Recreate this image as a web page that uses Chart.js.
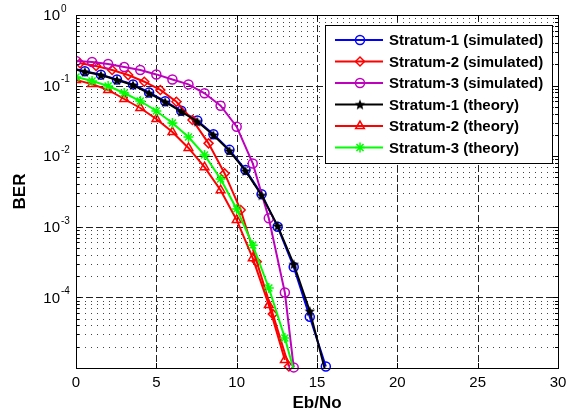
<!DOCTYPE html>
<html>
<head>
<meta charset="utf-8">
<script src="https://cdn.jsdelivr.net/npm/chart.js@4.4.0/dist/chart.umd.min.js"></script>
<style>
  html, body { margin: 0; padding: 0; background: #fff; }
  #ber { display: block; }
</style>
</head>
<body>
<canvas id="ber" width="579" height="419"></canvas>
<script>
// Eb/No values (dB) for each curve
const ebnoS1 = [-0.45, 0.55, 1.55, 2.55, 3.55, 4.55, 5.55, 6.55, 7.55, 8.55, 9.55, 10.55, 11.55, 12.55, 13.55, 14.55, 15.55];
const ebnoS2Sim = [0.25, 1.25, 2.25, 3.25, 4.25, 5.25, 6.25, 7.25, 8.25, 9.25, 10.25, 11.25, 12.25, 13.25];
const ebnoS3Sim = [0, 1, 2, 3, 4, 5, 6, 7, 8, 9, 10, 11, 12, 13, 13.55];
const ebnoS2Th = [0, 1, 2, 3, 4, 5, 6, 7, 8, 9, 10, 11, 12, 13];
const ebnoS3Th = [0, 1, 2, 3, 4, 5, 6, 7, 8, 9, 10, 11, 12, 13, 14];

// BER values
const berS1Sim = [0.18, 0.16, 0.143, 0.122, 0.104, 0.08, 0.06, 0.044, 0.032, 0.0205, 0.0123, 6.4e-3, 2.9e-3, 1.0e-3, 2.7e-4, 5.3e-5, 1.05e-5];
const berS2Sim = [0.207, 0.19, 0.166, 0.141, 0.1135, 0.0867, 0.059, 0.0326, 0.0152, 5.7e-3, 1.73e-3, 3.2e-4, 5.8e-5, 1.05e-5];
const berS3Sim = [0.223, 0.216, 0.202, 0.183, 0.166, 0.144, 0.122, 0.104, 0.0778, 0.0519, 0.0262, 7.9e-3, 1.32e-3, 1.17e-4, 1.02e-5];
const berS1Th = [0.178, 0.157, 0.141, 0.12, 0.102, 0.0778, 0.0586, 0.0427, 0.031, 0.02, 0.0119, 6.2e-3, 2.8e-3, 1.03e-3, 2.95e-4, 6.4e-5, 8.5e-6];
const berS2Th = [0.12, 0.105, 0.0867, 0.0646, 0.0482, 0.0337, 0.022, 0.0131, 7.0e-3, 3.3e-3, 1.25e-3, 3.6e-4, 7.8e-5, 1.3e-5];
const berS3Th = [0.132, 0.116, 0.0986, 0.0785, 0.0605, 0.0437, 0.0295, 0.0187, 0.0104, 4.75e-3, 1.79e-3, 5.5e-4, 1.36e-4, 2.66e-5, 4e-6];

const seriesLabels = [
    'Stratum-1 (simulated)', 'Stratum-2 (simulated)', 'Stratum-3 (simulated)',
    'Stratum-1 (theory)', 'Stratum-2 (theory)', 'Stratum-3 (theory)'
];

// axis ticks
const xTicks = [0, 5, 10, 15, 20, 25, 30];
const yTickExps = [0, -1, -2, -3, -4];

const FONT = '"Liberation Sans", Arial, Helvetica, sans-serif';

// filled pentagram marker (MATLAB 'p' look)
function makePentagram(color, size) {
    const c = document.createElement('canvas');
    c.width = size;
    c.height = size;
    const g = c.getContext('2d');
    const r = size / 2 - 0.5, ri = r * 0.45, cx = size / 2, cy = size / 2 + 0.5;
    g.beginPath();
    for (let k = 0; k < 10; k++) {
        const a = -Math.PI / 2 + k * Math.PI / 5;
        const rr = k % 2 ? ri : r;
        g.lineTo(cx + rr * Math.cos(a), cy + rr * Math.sin(a));
    }
    g.closePath();
    g.fillStyle = color;
    g.fill();
    return c;
}

function pts(xs, ys) {
    return xs.map((x, i) => ({ x: x, y: ys[i] }));
}

const clipEdge = { left: 0, top: 0, right: 0, bottom: 6 };
const clipTight = { left: 0, top: 0, right: 0, bottom: 0 };

const datasets = [
    { data: pts(ebnoS1, berS1Sim), borderColor: '#0000ff', pointStyle: 'circle', pointRadius: 4.5, clip: clipEdge },
    { data: pts(ebnoS2Sim, berS2Sim), borderColor: '#ff0000', pointStyle: 'rectRot', pointRadius: 4.5, clip: clipEdge },
    { data: pts(ebnoS3Sim, berS3Sim), borderColor: '#bf00bf', pointStyle: 'circle', pointRadius: 4.5, clip: clipEdge },
    { data: pts(ebnoS1, berS1Th), borderColor: '#000000', pointStyle: makePentagram('#000000', 12), pointRadius: 6, clip: clipTight },
    { data: pts(ebnoS2Th, berS2Th), borderColor: '#ff0000', pointStyle: 'triangle', pointRadius: 5, clip: clipEdge },
    { data: pts(ebnoS3Th, berS3Th), borderColor: '#00ff00', pointStyle: 'star', pointRadius: 5, clip: clipTight }
].map((d, i) => Object.assign({
    label: seriesLabels[i],
    borderWidth: 2,
    pointBorderWidth: 1.5,
    pointBorderColor: d.borderColor,
    pointBackgroundColor: 'rgba(0,0,0,0)',
    backgroundColor: 'rgba(0,0,0,0)',
    tension: 0,
    order: 5 - i
}, d));

const matlabAxes = {
    id: 'matlabAxes',
    beforeDraw(chart) {
        const ctx = chart.ctx;
        ctx.save();
        ctx.fillStyle = '#fff';
        ctx.fillRect(0, 0, chart.width, chart.height);
        ctx.restore();
    },
    beforeDatasetsDraw(chart) {
        const ctx = chart.ctx, a = chart.chartArea;
        const xs = chart.scales.x, ys = chart.scales.y;
        ctx.save();
        ctx.strokeStyle = '#444';
        ctx.lineWidth = 1;
        // minor dotted grid
        ctx.setLineDash([1, 5]);
        for (let e = -5; e < 0; e++) {
            for (let m = 2; m <= 9; m++) {
                const py = Math.round(ys.getPixelForValue(m * Math.pow(10, e))) + 0.5;
                if (py <= a.top || py >= a.bottom) continue;
                ctx.beginPath();
                ctx.moveTo(a.left + 3, py);
                ctx.lineTo(a.right, py);
                ctx.stroke();
            }
        }
        // major dashed grid
        ctx.setLineDash([7, 3]);
        ctx.strokeStyle = '#222';
        xTicks.slice(1, -1).forEach(v => {
            const px = Math.round(xs.getPixelForValue(v)) + 0.5;
            ctx.beginPath();
            ctx.moveTo(px, a.top);
            ctx.lineTo(px, a.bottom);
            ctx.stroke();
        });
        yTickExps.slice(1).forEach(e => {
            const py = Math.round(ys.getPixelForValue(Math.pow(10, e))) + 0.5;
            ctx.beginPath();
            ctx.moveTo(a.left, py);
            ctx.lineTo(a.right, py);
            ctx.stroke();
        });
        ctx.restore();
    },
    afterDatasetsDraw(chart) {
        const ctx = chart.ctx, a = chart.chartArea;
        const xs = chart.scales.x, ys = chart.scales.y;
        ctx.save();
        ctx.setLineDash([]);
        ctx.strokeStyle = '#000';
        ctx.lineWidth = 1;
        // box
        ctx.strokeRect(Math.round(a.left) + 0.5, Math.round(a.top) + 0.5,
            Math.round(a.right - a.left), Math.round(a.bottom - a.top));
        // inward ticks
        ctx.beginPath();
        xTicks.forEach(v => {
            const px = Math.round(xs.getPixelForValue(v)) + 0.5;
            ctx.moveTo(px, a.bottom); ctx.lineTo(px, a.bottom - 5);
            ctx.moveTo(px, a.top); ctx.lineTo(px, a.top + 5);
        });
        for (let e = -5; e <= 0; e++) {
            for (let m = 1; m <= 9; m++) {
                const v = m * Math.pow(10, e);
                if (v > 1 || v < 1e-5) continue;
                const py = Math.round(ys.getPixelForValue(v)) + 0.5;
                const len = m === 1 ? 5 : 3;
                ctx.moveTo(a.left, py); ctx.lineTo(a.left + len, py);
                ctx.moveTo(a.right, py); ctx.lineTo(a.right - len, py);
            }
        }
        ctx.stroke();

        // y tick labels as 10^n
        ctx.fillStyle = '#000';
        ctx.textBaseline = 'middle';
        yTickExps.forEach(e => {
            const py = ys.getPixelForValue(Math.pow(10, e));
            ctx.font = '15px ' + FONT;
            ctx.textAlign = 'right';
            ctx.fillText('10', a.left - 16, py + 1);
            ctx.font = '10px ' + FONT;
            ctx.textAlign = 'left';
            ctx.fillText(String(e), a.left - 15, py - 6);
        });

        // legend box
        const lx = 325, ly = 25, lw = 227, lh = 138;
        ctx.fillStyle = '#fff';
        ctx.fillRect(lx, ly, lw, lh);
        ctx.strokeRect(lx + 0.5, ly + 0.5, lw, lh);
        chart.data.datasets.forEach((ds, i) => {
            const y = ly + 15 + i * 21.5;
            ctx.strokeStyle = ds.borderColor;
            ctx.lineWidth = 2;
            ctx.beginPath();
            ctx.moveTo(lx + 10, y);
            ctx.lineTo(lx + 58, y);
            ctx.stroke();
            ctx.lineWidth = ds.pointBorderWidth;
            ctx.fillStyle = 'rgba(0,0,0,0)';
            Chart.helpers.drawPoint(ctx, {
                pointStyle: ds.pointStyle, radius: ds.pointRadius,
                borderWidth: ds.pointBorderWidth, rotation: 0
            }, lx + 35, y);
            ctx.fillStyle = '#000';
            ctx.font = 'bold 15px ' + FONT;
            ctx.textAlign = 'left';
            ctx.fillText(ds.label, lx + 64, y + 1);
        });
        ctx.restore();
    }
};

new Chart(document.getElementById('ber'), {
    type: 'line',
    data: { datasets: datasets },
    options: {
        responsive: false,
        animation: false,
        events: [],
        layout: { padding: { top: 15, right: 21, left: 0, bottom: 0 } },
        plugins: {
            legend: { display: false },
            tooltip: { enabled: false }
        },
        scales: {
            x: {
                type: 'linear',
                min: 0,
                max: 30,
                afterFit: s => { s.height = 51; },
                afterBuildTicks: s => { s.ticks = xTicks.map(v => ({ value: v })); },
                ticks: { color: '#000', font: { size: 15, family: FONT }, padding: 6, maxRotation: 0 },
                grid: { display: false, drawTicks: false },
                border: { display: false },
                title: { display: true, text: 'Eb/No', color: '#000', font: { size: 17, weight: 'bold', family: FONT }, padding: { top: 5, bottom: 5 } }
            },
            y: {
                type: 'logarithmic',
                min: 1e-5,
                max: 1,
                afterFit: s => { s.width = 76; },
                ticks: { display: false },
                grid: { display: false, drawTicks: false },
                border: { display: false },
                title: { display: true, text: 'BER', color: '#000', font: { size: 17, weight: 'bold', family: FONT }, padding: { top: 10, bottom: 10 } }
            }
        }
    },
    plugins: [matlabAxes]
});
</script>
</body>
</html>
